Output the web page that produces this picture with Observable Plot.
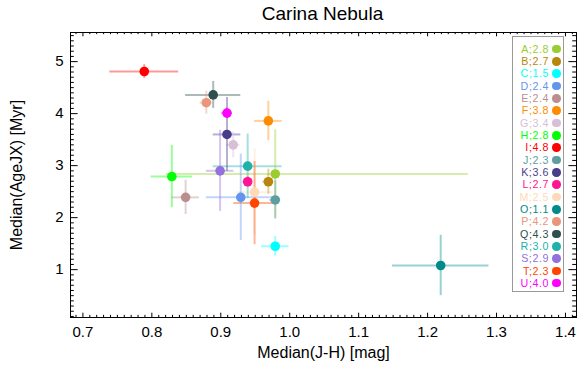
<!DOCTYPE html>
<html>
<head>
<meta charset="utf-8">
<script src="https://cdn.jsdelivr.net/npm/d3@7"></script>
<script src="https://cdn.jsdelivr.net/npm/@observablehq/plot@0.6"></script>
<style>
  html, body { margin: 0; padding: 0; background: #fff; }
  #wrap { position: relative; width: 585px; height: 388px; font-family: "Liberation Sans", Arial, Helvetica, sans-serif; }
  #title { height: 28px; line-height: 28px; font-size: 19px; text-align: center; padding-left: 60px; box-sizing: border-box; width: 585px; color: #000; }
  #legend { position: absolute; left: 512px; top: 36px; width: 52px; height: 256px; box-sizing: border-box; border: 1px solid #999; background: #fff; padding-top: 5.8px; }
  .row { height: 12.33px; display: flex; justify-content: flex-end; align-items: center; padding-right: 2px; white-space: nowrap; overflow: visible; }
  .lt { display: inline-block; height: 12.3px; line-height: 12.3px; font-size: 10.7px; letter-spacing: 0.55px; overflow: visible; }
  .sw { width: 8.6px; height: 8.6px; border-radius: 50%; margin-left: 3.5px; flex: none; }
  svg { display: block; }
</style>
</head>
<body>
<div id="wrap">
  <div id="title">Carina Nebula</div>
  <div id="chart"></div>
  <div id="legend"></div>
</div>
<script>
// ---- data ----
const names  = ["A","B","C","D","E","F","G","H","I","J","K","L","M","O","P","Q","R","S","T","U"];
const colors = ["yellowgreen","darkgoldenrod","cyan","cornflowerblue","rosybrown","darkorange","thistle","lime","red","cadetblue","darkslateblue","deeppink","peachpuff","darkcyan","darksalmon","darkslategray","lightseagreen","mediumpurple","orangered","magenta"];
const labels = ["A;2.8","B;2.7","C;1.5","D;2.4","E;2.4","F;3.8","G;3.4","H;2.8","I;4.8","J;2.3","K;3.6","L;2.7","M;2.5","O;1.1","P;4.2","Q;4.3","R;3.0","S;2.9","T;2.3","U;4.0"];
const jh     = [0.979,0.969,0.979,0.929,0.849,0.969,0.918,0.829,0.789,0.979,0.909,0.939,0.949,1.219,0.879,0.889,0.939,0.899,0.949,0.909];
const jhLo   = [0.158,0.008,0.02,0.05,0.02,0.02,0.01,0.03,0.05,0.008,0.02,0.007,0.027,0.07,0.009,0.04,0.05,0.02,0.03,0.008];
const jhHi   = [0.28, 0.008,0.02,0.05,0.02,0.02,0.01,0.03,0.05,0.008,0.02,0.007,0.027,0.07,0.009,0.04,0.05,0.02,0.03,0.008];
const age    = [2.84,2.69,1.45,2.39,2.39,3.86,3.40,2.79,4.81,2.34,3.60,2.69,2.49,1.08,4.21,4.36,2.99,2.90,2.28,4.01];
const ageErr = [0.85,0.24,0.19,0.83,0.33,0.38,0.25,0.6,0.13,0.37,0.71,0.1,0.83,0.58,0.22,0.26,0.62,0.78,0.8,0.1];
const xMajor = [0.7,0.8,0.9,1.0,1.1,1.2,1.3,1.4];
const yMajor = [1,2,3,4,5];
const xLabel = "Median(J-H) [mag]";
const yLabel = "Median(AgeJX) [Myr]";

const rows = names.map((n, i) => ({
  name: n, color: colors[i], x: jh[i], x1: jh[i] - jhLo[i], x2: jh[i] + jhHi[i],
  y: age[i], y1: age[i] - ageErr[i], y2: age[i] + ageErr[i]
}));

const W = 585, H = 360, mt = 4, mb = 71, ml = 70, mr = 9;
const FH = H - mt - mb, FW = W - ml - mr;
const xMinor = d3.range(69, 142).map(d => d / 100).filter(v => Math.abs(v * 10 - Math.round(v * 10)) > 1e-6);
const yMinor = d3.range(1, 56).map(d => d / 10).filter(v => Math.abs(v - Math.round(v)) > 1e-6);
const xTl = 4.3, yTl = 7.6;

const tickStyle = {stroke: "black", strokeWidth: 1};
const plot = Plot.plot({
  width: W, height: H,
  marginTop: mt, marginBottom: mb, marginLeft: ml, marginRight: mr,
  style: {fontFamily: '"Liberation Sans", Arial, Helvetica, sans-serif', fontSize: "15px", color: "black", background: "white"},
  x: {domain: [0.682, 1.416]},
  y: {domain: [0.08, 5.56]},
  color: {type: "identity"},
  marks: [
    // error bars
    Plot.ruleY(rows, {y: "y", x1: "x1", x2: "x2", stroke: "color", strokeWidth: 2, strokeOpacity: 0.4}),
    Plot.ruleX(rows, {x: "x", y1: "y1", y2: "y2", stroke: "color", strokeWidth: 2, strokeOpacity: 0.4}),
    // points
    Plot.dot(rows, {x: "x", y: "y", fill: "color", r: 4.8}),
    // frame and inward ticks on all sides
    Plot.frame({stroke: "black"}),
    Plot.tickX(xMajor, {x: d => d, insetTop: FH - xTl, ...tickStyle}),
    Plot.tickX(xMajor, {x: d => d, insetBottom: FH - xTl, ...tickStyle}),
    Plot.tickX(xMinor, {x: d => d, insetTop: FH - xTl / 2, ...tickStyle}),
    Plot.tickX(xMinor, {x: d => d, insetBottom: FH - xTl / 2, ...tickStyle}),
    Plot.tickY(yMajor, {y: d => d, insetRight: FW - yTl, ...tickStyle}),
    Plot.tickY(yMajor, {y: d => d, insetLeft: FW - yTl, ...tickStyle}),
    Plot.tickY(yMinor, {y: d => d, insetRight: FW - yTl / 2, ...tickStyle}),
    Plot.tickY(yMinor, {y: d => d, insetLeft: FW - yTl / 2, ...tickStyle}),
    // tick labels
    Plot.axisX({ticks: xMajor, tickSize: 0, tickPadding: 8.5, tickFormat: d3.format(".1f"), label: null}),
    Plot.axisY({ticks: yMajor, tickSize: 0, tickPadding: 7, tickFormat: d => String(d), label: null}),
    // axis titles
    Plot.text([xLabel], {text: d => d, frameAnchor: "bottom", textAnchor: "middle", lineAnchor: "middle", dy: 35, fontSize: 16}),
    Plot.text([yLabel], {text: d => d, frameAnchor: "left", textAnchor: "middle", lineAnchor: "middle", rotate: -90, dx: -54, fontSize: 16})
  ]
});
document.getElementById("chart").appendChild(plot);

const leg = document.getElementById("legend");
names.forEach((n, i) => {
  const r = document.createElement("div");
  r.className = "row";
  const t = document.createElement("span");
  t.className = "lt";
  t.textContent = labels[i];
  t.style.color = colors[i];
  const s = document.createElement("span");
  s.className = "sw";
  s.style.background = colors[i];
  r.appendChild(t); r.appendChild(s);
  leg.appendChild(r);
});
</script>
</body>
</html>
